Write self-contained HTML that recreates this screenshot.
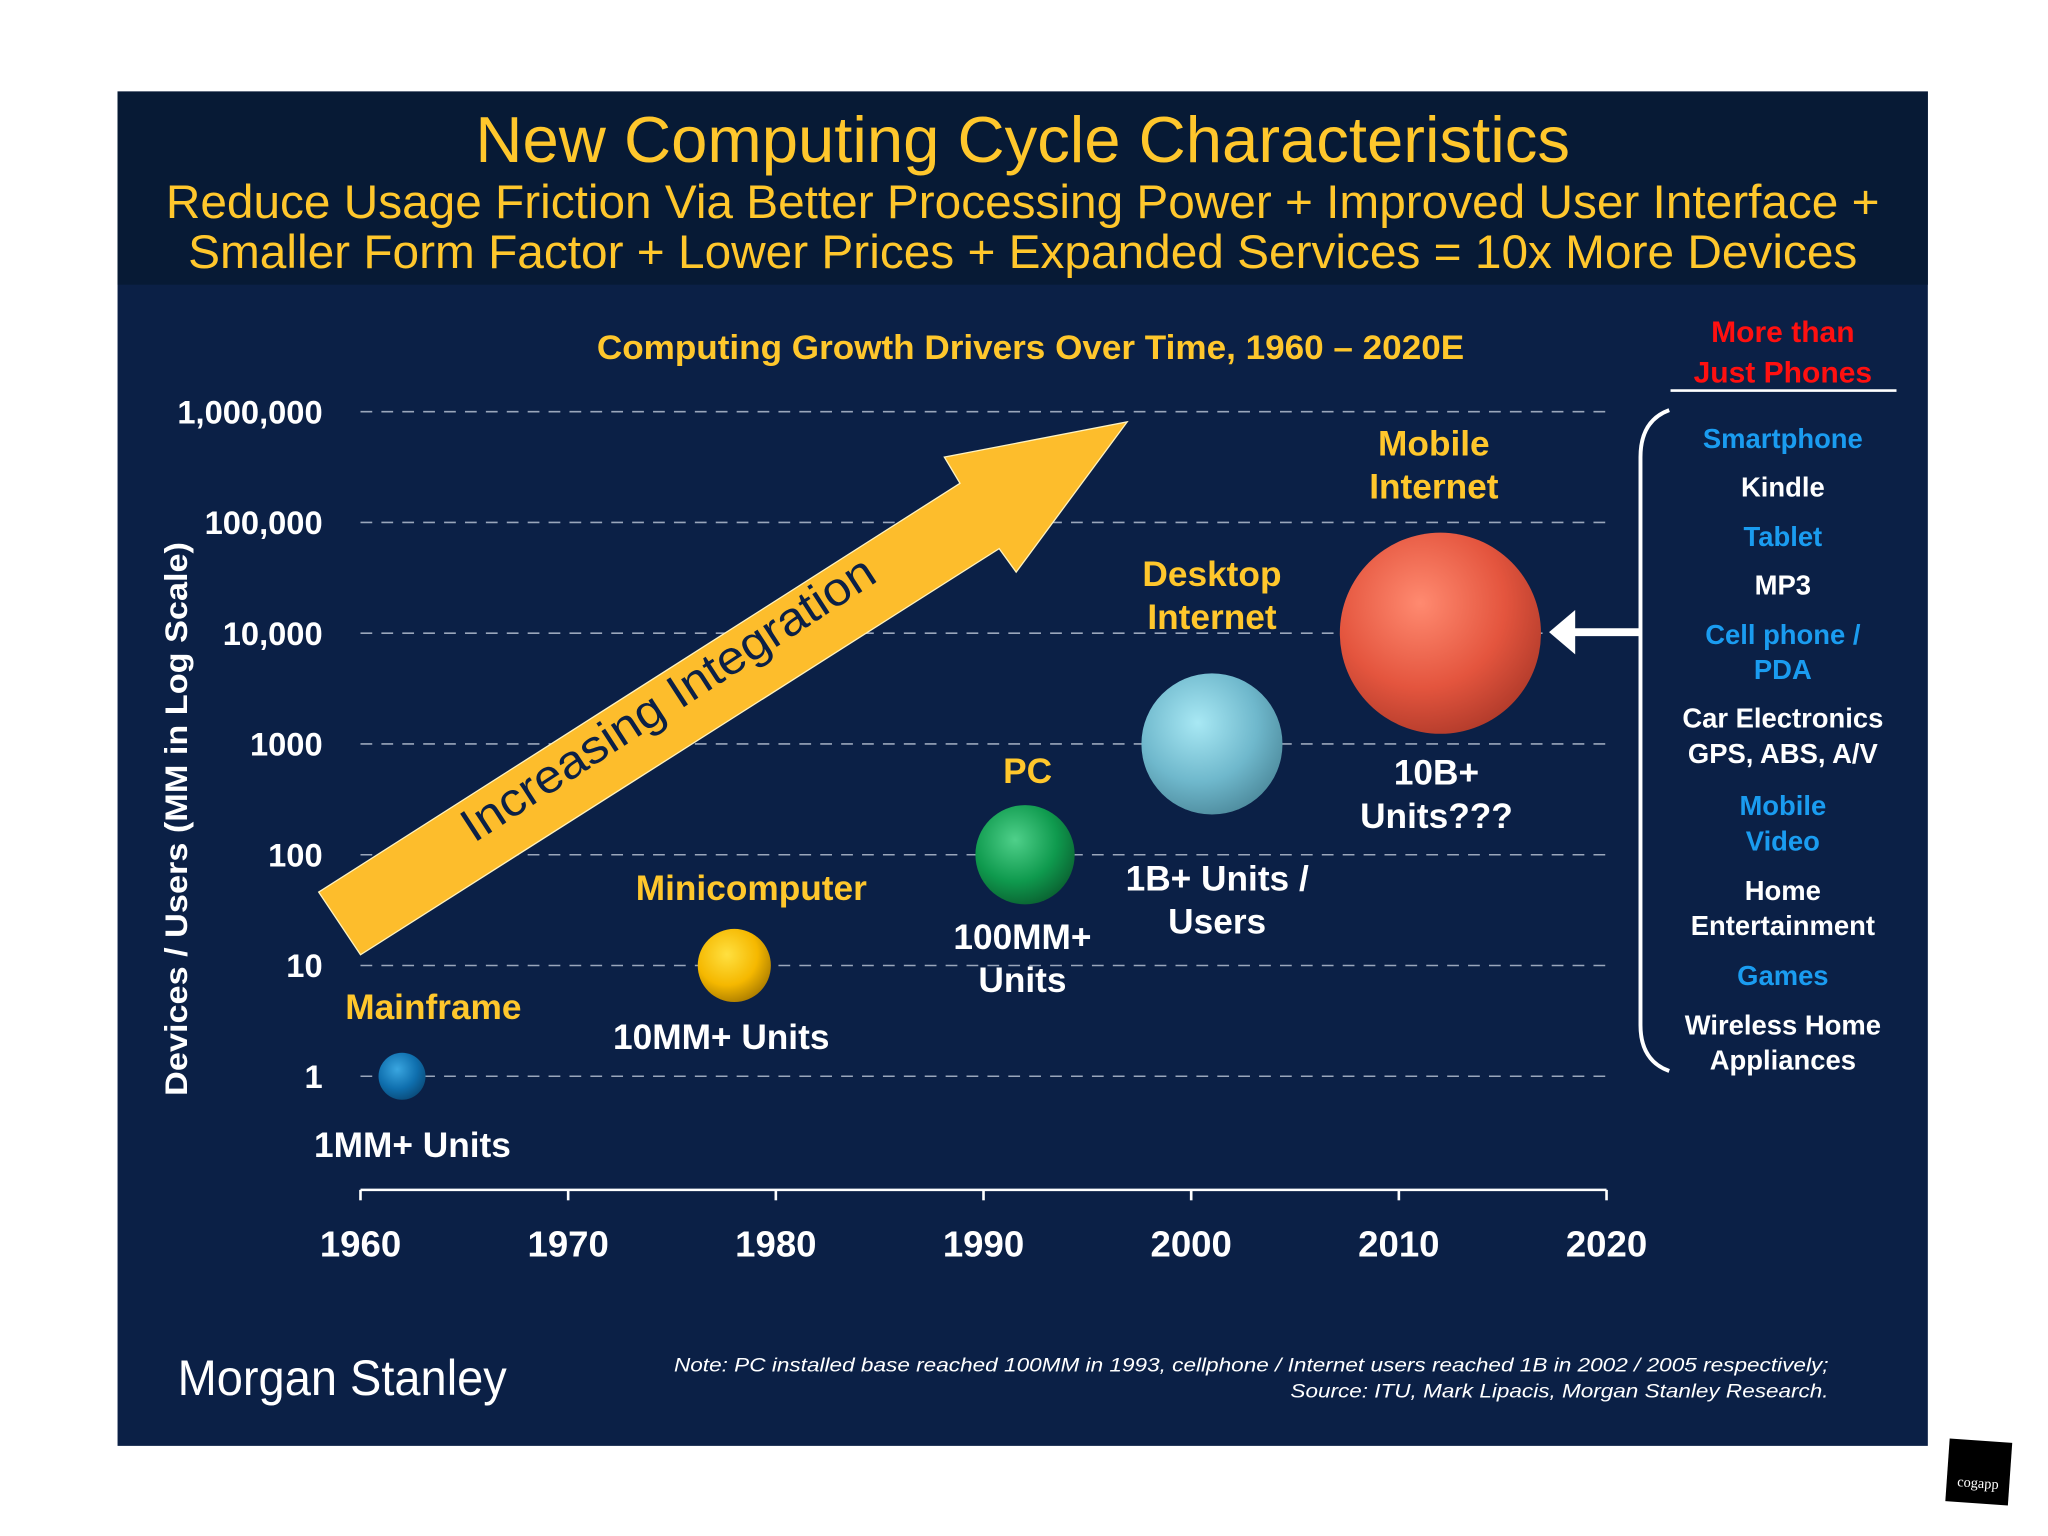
<!DOCTYPE html>
<html><head><meta charset="utf-8"><style>
html,body{margin:0;padding:0;background:#fff;width:2048px;height:1536px;overflow:hidden}
svg{display:block}
.n{font-family:"Liberation Sans Narrow","Liberation Sans",sans-serif}
.s{font-family:"Liberation Sans",sans-serif}
</style></head><body>
<svg id="chart" width="2048" height="1536" viewBox="0 0 1568 1176" xmlns="http://www.w3.org/2000/svg">
<defs>
<radialGradient id="gBlue" cx="0.4" cy="0.35" r="0.7"><stop offset="0" stop-color="#3aa6e0"/><stop offset="0.6" stop-color="#0f6fae"/><stop offset="1" stop-color="#0a4a78"/></radialGradient>
<radialGradient id="gGold" cx="0.4" cy="0.35" r="0.7"><stop offset="0" stop-color="#ffe040"/><stop offset="0.6" stop-color="#f5b800"/><stop offset="1" stop-color="#a87a00"/></radialGradient>
<radialGradient id="gGreen" cx="0.4" cy="0.35" r="0.7"><stop offset="0" stop-color="#4fd08a"/><stop offset="0.6" stop-color="#0f9a4e"/><stop offset="1" stop-color="#0a6030"/></radialGradient>
<radialGradient id="gCyan" cx="0.4" cy="0.35" r="0.7"><stop offset="0" stop-color="#a8e8f4"/><stop offset="0.6" stop-color="#6fb8cc"/><stop offset="1" stop-color="#4d8a9c"/></radialGradient>
<radialGradient id="gRed" cx="0.4" cy="0.35" r="0.7"><stop offset="0" stop-color="#ff8a70"/><stop offset="0.6" stop-color="#e4553e"/><stop offset="1" stop-color="#b03a2a"/></radialGradient>
</defs>
<rect x="90" y="70" width="1386" height="1037" fill="#0b2046"/>
<rect x="90" y="70" width="1386" height="148" fill="#071a35"/>
<text class="n" x="783" y="124" font-size="50" fill="#ffc72c" text-anchor="middle" textLength="838" lengthAdjust="spacingAndGlyphs">New Computing Cycle Characteristics</text>
<text class="n" x="783" y="167" font-size="36" fill="#ffc72c" text-anchor="middle" textLength="1312" lengthAdjust="spacingAndGlyphs">Reduce Usage Friction Via Better Processing Power + Improved User Interface +</text>
<text class="n" x="783" y="205" font-size="36" fill="#ffc72c" text-anchor="middle" textLength="1278" lengthAdjust="spacingAndGlyphs">Smaller Form Factor + Lower Prices + Expanded Services = 10x More Devices</text>
<text class="n" x="789" y="275" font-size="26" font-weight="bold" fill="#ffc72c" text-anchor="middle" textLength="664" lengthAdjust="spacingAndGlyphs">Computing Growth Drivers Over Time, 1960 – 2020E</text>
<g id="grid"></g>
<g id="yticks"></g>
<g id="xaxis"></g>
<text class="s" transform="translate(143,627) rotate(-90)" font-size="24" font-weight="bold" fill="#fff" text-anchor="middle" textLength="424" lengthAdjust="spacingAndGlyphs">Devices / Users (MM in Log Scale)</text>
<g>
<polygon points="244,683 735,370 723,350 863,323 778,438 765,420 276,731" fill="#fdbd2c" stroke="#fff3c0" stroke-width="1"/>
<text class="s" transform="translate(518,545) rotate(-33)" font-size="36" fill="#0b2046" text-anchor="middle" textLength="370" lengthAdjust="spacingAndGlyphs">Increasing Integration</text>
</g>
<g id="bubbles"></g>
<g id="labels"></g>
<g>
<text class="s" x="1365" y="262" font-size="23" font-weight="bold" fill="#ff1010" text-anchor="middle">More than</text>
<text class="s" x="1365" y="293" font-size="23" font-weight="bold" fill="#ff1010" text-anchor="middle">Just Phones</text>
<line x1="1279" y1="299" x2="1452" y2="299" stroke="#fff" stroke-width="2"/>
<path d="M1278,314 Q1256,322 1256,350 L1256,785 Q1256,812 1278,820" fill="none" stroke="#fff" stroke-width="3"/>
<line x1="1256" y1="484" x2="1200" y2="484" stroke="#fff" stroke-width="6"/>
<polygon points="1186,484 1206,467 1206,501" fill="#fff"/>
<g id="list" class="s" font-size="21" font-weight="bold" text-anchor="middle"></g>
</g>
<text class="n" x="136" y="1068" font-size="38" fill="#fff" textLength="252" lengthAdjust="spacingAndGlyphs">Morgan Stanley</text>
<text class="s" x="1400" y="1050" font-size="15" font-style="italic" fill="#fff" text-anchor="end" textLength="884" lengthAdjust="spacingAndGlyphs">Note: PC installed base reached 100MM in 1993, cellphone / Internet users reached 1B in 2002 / 2005 respectively;</text>
<text class="s" x="1400" y="1070" font-size="15" font-style="italic" fill="#fff" text-anchor="end" textLength="412" lengthAdjust="spacingAndGlyphs">Source: ITU, Mark Lipacis, Morgan Stanley Research.</text>
<g transform="rotate(4 1515 1127)">
<rect x="1491" y="1103" width="48" height="48" fill="#000"/>
<text x="1515" y="1139" font-size="11" fill="#fff" text-anchor="middle" font-family="Liberation Serif,serif">cogapp</text>
</g>
</svg>
<script>
const NS='http://www.w3.org/2000/svg';
const yTickValues=[1,10,100,1000,10000,100000,1000000];
const yTickLabels=['1','10','100','1000','10,000','100,000','1,000,000'];
const xTickYears=[1960,1970,1980,1990,2000,2010,2020];
const categories=['Mainframe','Minicomputer','PC','Desktop Internet','Mobile Internet'];
const bubbleYears=[1962,1978,1992,2001,2012];
const bubbleValues=[1,10,100,1000,10000];
const bubbleRadii=[18,28,38,54,77];
const listItems=['Smartphone','Kindle','Tablet','MP3','Cell phone /|PDA','Car Electronics|GPS, ABS, A/V','Mobile|Video','Home|Entertainment','Games','Wireless Home|Appliances'];
const listBlue=[true,false,true,false,true,false,true,false,true,false];

const X0=276,X1=1230,Y1=824,DEC=84.8;
function xs(yr){return X0+(yr-1960)*(X1-X0)/60;}
function ys(v){return Y1-Math.log10(v)*DEC;}
function mk(tag,attrs,parent,text){const e=document.createElementNS(NS,tag);for(const k in attrs)e.setAttribute(k,attrs[k]);if(text!==undefined)e.textContent=text;parent.appendChild(e);return e;}

const grid=document.getElementById('grid'),yt=document.getElementById('yticks');
yTickValues.forEach((v,i)=>{
  const l=mk('line',{x1:X0,x2:X1,y1:ys(v),y2:ys(v),stroke:'#9aa6bb','stroke-width':1.2,'stroke-dasharray':'9,7'},grid);
  
  
  const t=mk('text',{x:247,y:ys(v)+9,'font-size':25,'font-weight':'bold',fill:'#fff','text-anchor':'end','class':'s'},yt,yTickLabels[i]);
  
  
});
const xa=document.getElementById('xaxis');
const ax=mk('line',{x1:X0,x2:X1,y1:911,y2:911,stroke:'#fff','stroke-width':2},xa);


xTickYears.forEach(yr=>{
  const tk=mk('line',{x1:xs(yr),x2:xs(yr),y1:911,y2:919,stroke:'#fff','stroke-width':2},xa);
  
  
  const t=mk('text',{x:xs(yr),y:962,'font-size':28,'font-weight':'bold',fill:'#fff','text-anchor':'middle','class':'s'},xa,String(yr));
  
  
});
const grads=['gBlue','gGold','gGreen','gCyan','gRed'];
const bg=document.getElementById('bubbles');
bubbleYears.forEach((yr,i)=>{
  const c=mk('circle',{cx:xs(yr),cy:ys(bubbleValues[i]),r:bubbleRadii[i],fill:'url(#'+grads[i]+')'},bg);
  
  
});
const lbl=document.getElementById('labels');
const labelDefs=[
 [['Mainframe'],24,-44,'#ffc72c'],[['1MM+ Units'],8,62,'#fff'],
 [['Minicomputer'],13,-50,'#ffc72c'],[['10MM+ Units'],-10,64,'#fff'],
 [['PC'],2,-55,'#ffc72c'],[['100MM+','Units'],-2,72,'#fff'],
 [['Desktop','Internet'],0,-121,'#ffc72c'],[['1B+ Units /','Users'],4,112,'#fff'],
 [['Mobile','Internet'],-5,-136,'#ffc72c'],[['10B+','Units???'],-3,116,'#fff']];
labelDefs.forEach((d,j)=>{
  const i=Math.floor(j/2),cx=xs(bubbleYears[i]),cy=ys(bubbleValues[i]);
  d[0].forEach((s,k)=>{
    const t=mk('text',{x:cx+d[1],y:cy+d[2]+k*33,'font-size':27,'font-weight':'bold',fill:d[3],'text-anchor':'middle','class':'n'},lbl,s);
    
    
  });
});
const list=document.getElementById('list');
const listY=[343,380,418,455,493,557,624,689,754,792];
listItems.forEach((s,i)=>{
  s.split('|').forEach((p,k)=>{
    const t=mk('text',{x:1365,y:listY[i]+k*27,fill:listBlue[i]?'#1a9cf0':'#fff'},list,p);
    
    
  });
});
</script>
</body></html>
